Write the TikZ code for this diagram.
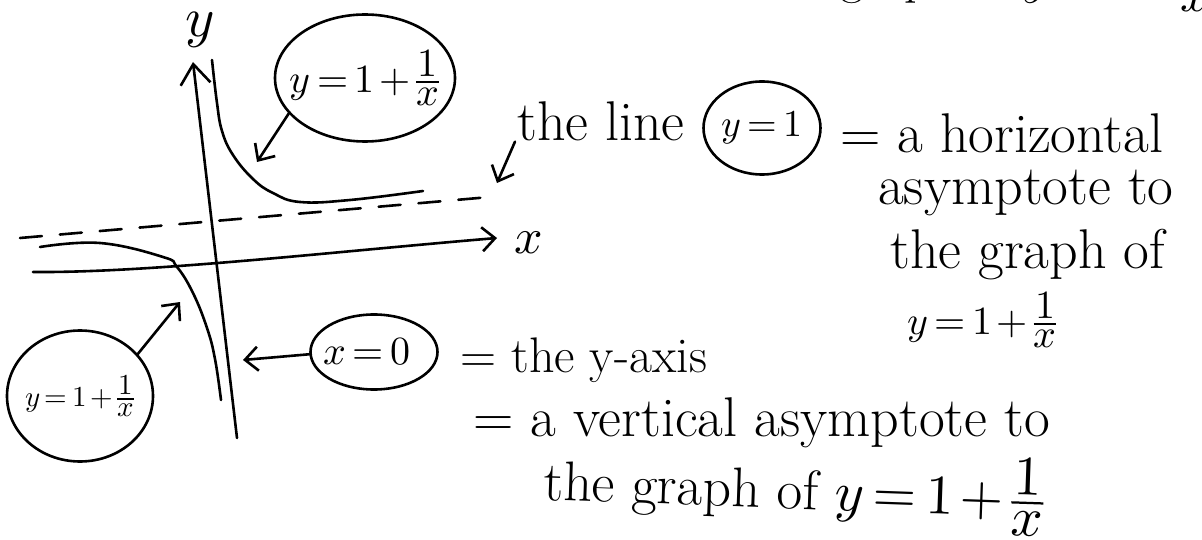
\documentclass[tikz,border=0pt]{standalone}
\usepackage{unicode-math}
\usetikzlibrary{arrows.meta,shapes.geometric}
\thickmuskip=3mu
\medmuskip=2mu
\tikzset{
  ink/.style={line width=2.6pt, line cap=round, line join=round},
  barb/.style={-{Straight Barb[length=13pt,width=24pt,line width=2.6pt]}},
  bigbarb/.style={-{Straight Barb[length=20pt,width=30pt,line width=2.6pt]}},
  bubble/.style={ellipse, draw, ink, inner sep=0pt},
  hand/.style={inner sep=0pt, font=\fontsize{56}{60}\selectfont},
}
\newcommand{\hyp}{y=1+\frac{\textstyle 1}{\textstyle x}}
\begin{document}
\begin{tikzpicture}[x=1pt,y=-1pt]
\useasboundingbox (0,0) rectangle (1202,540);
\fill[white] (0,0) rectangle (1202,540);

% text cut off at the top edge, as in the reference
\begin{scope}
\clip (0,0) rectangle (1202,540);
\node[hand, anchor=base east, font=\fontsize{50}{54}\selectfont] (toptext) at (1210,-6) {the graph of $\hyp$};
\end{scope}

% axes
\coordinate (yb) at (237,438);
\coordinate (yt) at (193,62);
\draw[ink, bigbarb] (yb) -- (yt);
\node[inner sep=0pt, font=\fontsize{56}{60}\selectfont] (ylab) at (200,30) {$y$};

\coordinate (xl) at (33,272);
\coordinate (xr) at (497,238);
\draw[ink, barb] (xl) .. controls (150,273) and (330,252) .. (xr);
\node[inner sep=0pt, font=\fontsize{50}{54}\selectfont] (xlab) at (529,243) {$x$};

% horizontal asymptote (dashed)
\coordinate (dl) at (20,238);
\coordinate (dr) at (490,197);
\draw[ink, dash pattern=on 22pt off 18pt] (dl) -- (dr);

% hyperbola branches
\draw[ink] plot[smooth, tension=0.7] coordinates {(212,60) (217,103) (222,131) (233,155) (253,179) (273,193) (300,202) (350,200) (423,191)};
\draw[ink] plot[smooth, tension=0.7] coordinates {(40,247) (100,243) (163,257) (177,267) (193,293) (207,328) (215,359) (221,400)};

% bubbles
\node[bubble, minimum width=180pt, minimum height=127pt, font=\fontsize{40}{44}\selectfont] (b1) at (365,78) {\makebox[0pt]{$\hyp$}};
\node[bubble, minimum width=146pt, minimum height=131pt, font=\fontsize{29}{32}\selectfont] (b2) at (80,396) {\makebox[0pt]{$\hyp$}};
\node[bubble, minimum width=127pt, minimum height=75pt, font=\fontsize{40}{44}\selectfont] (b3) at (374,352) {\makebox[0pt]{\hspace{-14pt}$x=0$}};
\node[bubble, minimum width=117pt, minimum height=93pt, font=\fontsize{38}{42}\selectfont] (c1) at (762,128) {\makebox[0pt]{$y=1$}};

% arrows from bubbles
\coordinate (t1) at (257,162);
\draw[ink, barb] (b1.205) -- (t1);
\coordinate (t2) at (180,302);
\draw[ink, barb] (b2.36) -- (t2);
\coordinate (t3) at (243,360);
\draw[ink, barb] (b3.182) -- (t3);

% text
\node[hand, anchor=base west] (lineA) at (517,141) {the line};
\coordinate (t4) at (497,183);
\draw[ink, barb] ([xshift=-2pt]lineA.south west) -- (t4);

\node[hand, anchor=base west] (lineB) at (840,153) {= a horizontal};
\node[hand, anchor=base west] (lineC) at (878,205) {asymptote to};
\node[hand, anchor=base west] (lineD) at (890,268) {the graph of};
\node[hand, anchor=base west, font=\fontsize{40}{44}\selectfont] (lineE) at (907,334) {$\hyp$};

\node[hand, anchor=base west, font=\fontsize{50}{54}\selectfont] (lineF) at (460,372) {= the y-axis};
\node[hand, anchor=base west] (lineG) at (473,436) {= a vertical asymptote to};
\node[hand, anchor=base west, rotate=-2] (lineH) at (543,500) {the graph of $\hyp$};
\end{tikzpicture}
\end{document}
